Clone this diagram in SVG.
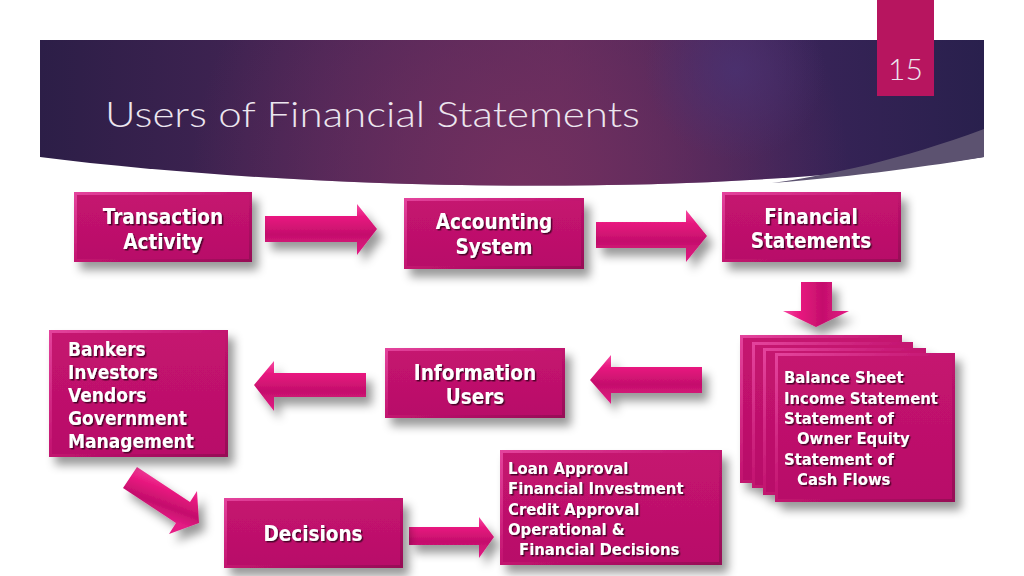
<svg xmlns="http://www.w3.org/2000/svg" width="1024" height="576" viewBox="0 0 1024 576">
  <defs>
    <linearGradient id="bandLin" x1="0" y1="0" x2="1" y2="0">
      <stop offset="0" stop-color="#2c1e47"/>
      <stop offset="0.3" stop-color="#472556"/>
      <stop offset="0.55" stop-color="#5a2a5d"/>
      <stop offset="0.78" stop-color="#3a2459"/>
      <stop offset="1" stop-color="#29204d"/>
    </linearGradient>
    <radialGradient id="bandGlow" cx="520" cy="185" r="330" gradientUnits="userSpaceOnUse">
      <stop offset="0" stop-color="#74305f" stop-opacity="0.95"/>
      <stop offset="1" stop-color="#74305f" stop-opacity="0"/>
    </radialGradient>
    <radialGradient id="bandBlob" cx="735" cy="70" r="90" gradientUnits="userSpaceOnUse">
      <stop offset="0" stop-color="#4a3272" stop-opacity="0.8"/>
      <stop offset="1" stop-color="#4a3272" stop-opacity="0"/>
    </radialGradient>
    <linearGradient id="bevel" x1="0" y1="0" x2="1" y2="1">
      <stop offset="0" stop-color="#e4449d"/>
      <stop offset="0.5" stop-color="#c2136f"/>
      <stop offset="1" stop-color="#960b56"/>
    </linearGradient>
    <linearGradient id="face" x1="0" y1="0" x2="0" y2="1">
      <stop offset="0" stop-color="#c5136f"/>
      <stop offset="1" stop-color="#b80f69"/>
    </linearGradient>
    <linearGradient id="arrowV" x1="0" y1="0" x2="0" y2="1">
      <stop offset="0" stop-color="#f54aa2"/>
      <stop offset="0.25" stop-color="#e8187f"/>
      <stop offset="0.6" stop-color="#c40f6c"/>
      <stop offset="1" stop-color="#e51c85"/>
    </linearGradient>
    <linearGradient id="arrowH" x1="0" y1="0" x2="1" y2="0">
      <stop offset="0" stop-color="#f54aa2"/>
      <stop offset="0.25" stop-color="#e8187f"/>
      <stop offset="0.6" stop-color="#c40f6c"/>
      <stop offset="1" stop-color="#e51c85"/>
    </linearGradient>
    <linearGradient id="arrowD" x1="0.35" y1="0" x2="0.1" y2="0.6">
      <stop offset="0" stop-color="#f54aa2"/>
      <stop offset="0.35" stop-color="#e8187f"/>
      <stop offset="0.7" stop-color="#c40f6c"/>
      <stop offset="1" stop-color="#e51c85"/>
    </linearGradient>
    <filter id="shadow" x="-20%" y="-20%" width="150%" height="160%">
      <feGaussianBlur in="SourceAlpha" stdDeviation="5"/>
      <feOffset dx="6" dy="8" result="b"/>
      <feFlood flood-color="#000" flood-opacity="0.4"/>
      <feComposite in2="b" operator="in"/>
      <feMerge><feMergeNode/><feMergeNode in="SourceGraphic"/></feMerge>
    </filter>
    <filter id="tshadow" x="-10%" y="-20%" width="130%" height="150%">
      <feDropShadow dx="1.5" dy="1.5" stdDeviation="0.7" flood-color="#3a0020" flood-opacity="0.85"/>
    </filter>
  </defs>
  <style>
    .bev { fill: url(#bevel); }
    .face { fill: url(#face); }
    .lbl { font-family: "DejaVu Sans Condensed", "DejaVu Sans", sans-serif; font-stretch: condensed; font-weight: bold; fill: #ffffff; filter: url(#tshadow); }
    .big { font-size: 20.5px; text-anchor: middle; }
    .mid { font-size: 19px; }
    .sm { font-size: 16.5px; }
    .arr { fill: url(#arrowV); filter: url(#shadow); }
    .title { font-family: Lato, "Open Sans", "Liberation Sans", sans-serif; font-weight: 300; fill: #ece6ef; }
  </style>

  <rect width="1024" height="576" fill="#ffffff"/>

  <!-- header band -->
  <g id="header">
    <path d="M40,40 H984 V157 C700,200 300,190 40,157 Z" fill="url(#bandLin)"/>
    <path d="M40,40 H984 V157 C700,200 300,190 40,157 Z" fill="url(#bandGlow)"/>
    <path d="M40,40 H984 V157 C700,200 300,190 40,157 Z" fill="url(#bandBlob)"/>
    <path d="M984,129 C900,160 830,175 772,183 C860,176 930,166 984,157 Z" fill="#5c5270"/>
    <rect x="877" y="0" width="57" height="96" fill="#b7155f"/>
    <text class="title" x="905.5" y="80" font-size="30" text-anchor="middle">15</text>
    <text class="title" x="105" y="127" font-size="36" textLength="535" lengthAdjust="spacingAndGlyphs">Users of Financial Statements</text>
  </g>

  <!-- connectors -->
  <g id="connectors">
    <polygon class="arr" points="265,216 357,216 357,204 377,229 357,255 357,242 265,242"/>
    <polygon class="arr" points="596,222 686,222 686,210 707,236 686,262 686,248 596,248"/>
    <polygon class="arr" style="fill:url(#arrowH)" points="801,282 832,282 832,311 849,311 816,327 783,311 801,311"/>
    <polygon class="arr" points="702,367 611,367 611,355 590,380 611,404 611,393 702,393"/>
    <polygon class="arr" points="366,373 274,373 274,361 254,385 274,411 274,397 366,397"/>
    <polygon class="arr" style="fill:url(#arrowD)" points="137,467 190,502 197,491 199,523 169,534 176,523 123,488"/>
    <polygon class="arr" points="409,527 479,527 479,517 494,537 479,558 479,545 409,545"/>
  </g>

  <g id="transaction-activity" filter="url(#shadow)">
    <rect class="bev" x="74" y="192" width="178" height="70"/>
    <rect class="face" x="77" y="195" width="172" height="64"/>
    <text class="lbl big" x="163" y="224">Transaction</text>
    <text class="lbl big" x="163" y="249">Activity</text>
  </g>

  <g id="accounting-system" filter="url(#shadow)">
    <rect class="bev" x="404" y="198" width="180" height="71"/>
    <rect class="face" x="407" y="201" width="174" height="65"/>
    <text class="lbl big" x="494" y="229">Accounting</text>
    <text class="lbl big" x="494" y="254">System</text>
  </g>

  <g id="financial-statements" filter="url(#shadow)">
    <rect class="bev" x="722" y="192" width="179" height="70"/>
    <rect class="face" x="725" y="195" width="173" height="64"/>
    <text class="lbl big" x="811" y="224">Financial</text>
    <text class="lbl big" x="811" y="248">Statements</text>
  </g>

  <g id="statements-stack" filter="url(#shadow)">
    <rect class="bev" x="740" y="335" width="162" height="148"/>
    <rect class="face" x="743" y="338" width="156" height="142"/>
    <rect class="bev" x="752" y="342" width="161" height="146"/>
    <rect class="face" x="755" y="345" width="155" height="140"/>
    <rect class="bev" x="763" y="348" width="163" height="147"/>
    <rect class="face" x="766" y="351" width="157" height="141"/>
    <rect class="bev" x="775" y="353" width="180" height="149"/>
    <rect class="face" x="778" y="356" width="174" height="143"/>
    <text class="lbl sm" x="784" y="383">Balance Sheet</text>
    <text class="lbl sm" x="784" y="403.5">Income Statement</text>
    <text class="lbl sm" x="784" y="424">Statement of</text>
    <text class="lbl sm" x="797" y="444">Owner Equity</text>
    <text class="lbl sm" x="784" y="464.5">Statement of</text>
    <text class="lbl sm" x="797" y="485">Cash Flows</text>
  </g>

  <g id="information-users" filter="url(#shadow)">
    <rect class="bev" x="385" y="348" width="180" height="70"/>
    <rect class="face" x="388" y="351" width="174" height="64"/>
    <text class="lbl big" x="475" y="380">Information</text>
    <text class="lbl big" x="475" y="404">Users</text>
  </g>

  <g id="users-list" filter="url(#shadow)">
    <rect class="bev" x="49" y="330" width="179" height="127"/>
    <rect class="face" x="52" y="333" width="173" height="121"/>
    <text class="lbl mid" x="68" y="356">Bankers</text>
    <text class="lbl mid" x="68" y="379">Investors</text>
    <text class="lbl mid" x="68" y="402">Vendors</text>
    <text class="lbl mid" x="68" y="425">Government</text>
    <text class="lbl mid" x="68" y="448">Management</text>
  </g>

  <g id="decisions" filter="url(#shadow)">
    <rect class="bev" x="224" y="498" width="179" height="70"/>
    <rect class="face" x="227" y="501" width="173" height="64"/>
    <text class="lbl big" x="313" y="541">Decisions</text>
  </g>

  <g id="decision-list" filter="url(#shadow)">
    <rect class="bev" x="500" y="450" width="222" height="115"/>
    <rect class="face" x="503" y="453" width="216" height="109"/>
    <text class="lbl sm" x="508" y="474">Loan Approval</text>
    <text class="lbl sm" x="508" y="494">Financial Investment</text>
    <text class="lbl sm" x="508" y="514.5">Credit Approval</text>
    <text class="lbl sm" x="508" y="535">Operational &amp;</text>
    <text class="lbl sm" x="519" y="555">Financial Decisions</text>
  </g>
</svg>
